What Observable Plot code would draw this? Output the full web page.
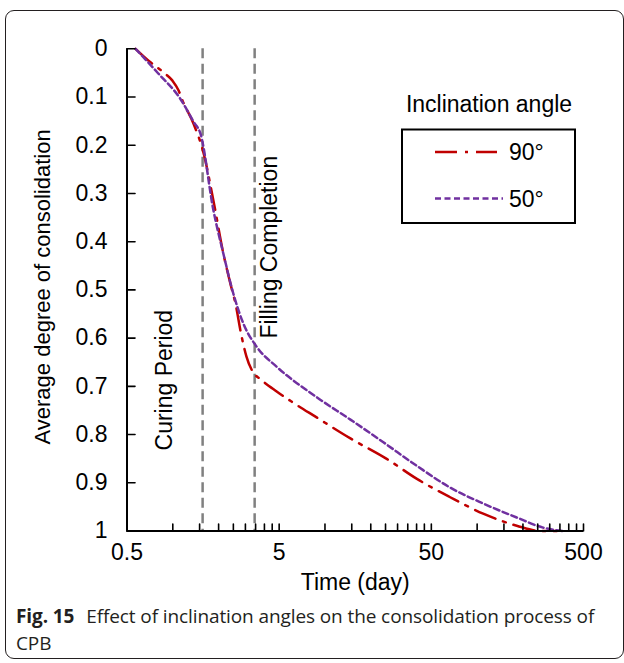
<!DOCTYPE html>
<html>
<head>
<meta charset="utf-8">
<script src="https://cdn.jsdelivr.net/npm/d3@7"></script>
<script src="https://cdn.jsdelivr.net/npm/@observablehq/plot@0.6"></script>
<style>
  html, body { margin: 0; padding: 0; background: #fff; }
  body { width: 624px; height: 663px; overflow: hidden; position: relative; font-family: "Liberation Sans", Arial, sans-serif; }
  #frame { position: absolute; left: 5px; top: 10px; width: 619px; height: 649px; box-sizing: border-box; border: 1px solid #231f20; border-radius: 9px; }
  #chart { position: absolute; left: 0; top: 0; }
  #overlay { position: absolute; left: 0; top: 0; pointer-events: none; }
  #caption { position: absolute; left: 16px; top: 602.7px; width: 604px; font-family: "Open Sans", "Noto Sans", sans-serif; font-size: 19px; line-height: 27px; color: #231f20; letter-spacing: -0.1px; white-space: nowrap; }
  #caption b { font-weight: 700; margin-right: 7px; }
</style>
</head>
<body>
<div id="frame"></div>
<div id="chart"></div>
<svg id="overlay" width="624" height="663"></svg>
<div id="caption"><b>Fig. 15</b> Effect of inclination angles on the consolidation process of<br>CPB</div>
<script>
// ---- data ----
const series = ["90°", "50°"];
const legendTitle = "Inclination angle";
const time90 = [0.569, 0.713, 0.894, 0.995, 1.094, 1.157, 1.367, 1.589, 1.849, 2.15, 2.39, 2.58, 2.81, 3.045, 3.37, 3.76, 4.84, 5.92, 8.87, 14.7, 25.6, 40.2, 66.5, 109.6, 182, 259, 334];
const deg90  = [0, 0.028, 0.052, 0.066, 0.087, 0.107, 0.155, 0.215, 0.315, 0.425, 0.487, 0.528, 0.591, 0.638, 0.671, 0.685, 0.711, 0.730, 0.765, 0.808, 0.851, 0.892, 0.930, 0.964, 0.989, 1.0, 1.0];
const time50 = [0.569, 0.789, 1.122, 1.373, 1.52, 1.849, 2.15, 2.50, 2.91, 3.58, 4.84, 8.87, 14.7, 24.2, 40.2, 66.5, 109.6, 182, 271, 367];
const deg50  = [0, 0.0486, 0.104, 0.152, 0.176, 0.335, 0.425, 0.508, 0.570, 0.619, 0.660, 0.723, 0.769, 0.816, 0.865, 0.910, 0.943, 0.972, 0.993, 1.0];
const periodLines = [1.57, 3.45];
const periodLabels = ["Curing Period", "Filling Completion"];
const xTickLabels = [0.5, 5, 50, 500];
const xMinorTicks = [0.5, 1, 1.5, 2, 2.5, 3, 3.5, 4, 4.5, 5, 10, 15, 20, 25, 30, 35, 40, 45, 50, 100, 150, 200, 250, 300, 350, 400, 450, 500];
const yTicks = [0, 0.1, 0.2, 0.3, 0.4, 0.5, 0.6, 0.7, 0.8, 0.9, 1];
const xTitle = "Time (day)";
const yTitle = "Average degree of consolidation";

const colors = ["#C00000", "#7030A0"];
const dashes = ["22,8,3,8", "6,3.5"];

const d90 = time90.map((t, i) => ({t, v: deg90[i]}));
const d50 = time50.map((t, i) => ({t, v: deg50[i]}));

const tickShape = {draw(ctx, l) { ctx.moveTo(0, 0); ctx.lineTo(0, -l); }};
const font = "'Liberation Sans', Arial, sans-serif";

const chart = Plot.plot({
  width: 624,
  height: 600,
  marginLeft: 126.5,
  marginRight: 41,
  marginTop: 48.3,
  marginBottom: 69.5,
  style: {fontFamily: font, fontSize: "23px", background: "transparent", overflow: "visible", color: "#000"},
  x: {type: "log", domain: [0.5, 500], axis: null},
  y: {domain: [0, 1], reverse: true, axis: null},
  marks: [
    Plot.ruleX(periodLines, {x: d => d, y1: 0, y2: 1, stroke: "#808080", strokeWidth: 2.5, strokeDasharray: "10,5.5"}),
    Plot.line(d90, {x: "t", y: "v", stroke: colors[0], strokeWidth: 2.5, strokeDasharray: dashes[0], curve: "monotone-x"}),
    Plot.line(d50, {x: "t", y: "v", stroke: colors[1], strokeWidth: 2.5, strokeDasharray: dashes[1], curve: "monotone-x"}),
    Plot.ruleY([1], {stroke: "#000", strokeWidth: 2}),
    Plot.ruleX([0.5], {stroke: "#000", strokeWidth: 2}),
    Plot.vector(xMinorTicks, {x: d => d, y: () => 1, length: 7, rotate: 0, anchor: "start", shape: tickShape, stroke: "#000", strokeWidth: 1.6}),
    Plot.vector(yTicks, {x: () => 0.5, y: d => d, length: 8, rotate: 90, anchor: "start", shape: tickShape, stroke: "#000", strokeWidth: 1.6}),
    Plot.text(xTickLabels, {x: d => d, frameAnchor: "bottom", dy: 12.5, lineAnchor: "top", textAnchor: "middle", text: d => String(d), fontSize: 23, fill: "#000"}),
    Plot.text(yTicks, {y: d => d, frameAnchor: "left", dx: -19.5, lineAnchor: "middle", textAnchor: "end", text: d => String(d), fontSize: 23, fill: "#000"}),
    Plot.text([periodLabels[0]], {x: periodLines[0], y: 0.833, dx: -30.5, rotate: -90, textAnchor: "start", lineAnchor: "bottom", fontSize: 23, fill: "#000"}),
    Plot.text([periodLabels[1]], {x: periodLines[1], y: 0.601, dx: 22, rotate: -90, textAnchor: "start", lineAnchor: "bottom", fontSize: 23, fill: "#000"}),
    Plot.text([yTitle], {frameAnchor: "left", rotate: -90, dx: -77, dy: -3, lineAnchor: "bottom", textAnchor: "middle", fontSize: 22, fill: "#000"}),
    Plot.text([xTitle], {frameAnchor: "bottom", dy: 42.5, lineAnchor: "top", textAnchor: "middle", fontSize: 23, fill: "#000"})
  ]
});
document.getElementById("chart").appendChild(chart);

// ---- legend overlay ----
const svg = d3.select("#overlay");
svg.append("text").attr("x", 489).attr("y", 112).attr("text-anchor", "middle")
  .attr("font-family", font).attr("font-size", 23).text(legendTitle);
svg.append("rect").attr("x", 402).attr("y", 129.5).attr("width", 173).attr("height", 93.5)
  .attr("fill", "none").attr("stroke", "#000").attr("stroke-width", 2);
const rowsY = [152, 198.5];
const lineEnds = [497, 503];
series.forEach((s, i) => {
  svg.append("line").attr("x1", 435).attr("x2", lineEnds[i]).attr("y1", rowsY[i]).attr("y2", rowsY[i])
    .attr("stroke", colors[i]).attr("stroke-width", 2.5).attr("stroke-dasharray", dashes[i]);
  svg.append("text").attr("x", 509).attr("y", rowsY[i] + 8).attr("font-family", font).attr("font-size", 23).text(s);
});
</script>
</body>
</html>
